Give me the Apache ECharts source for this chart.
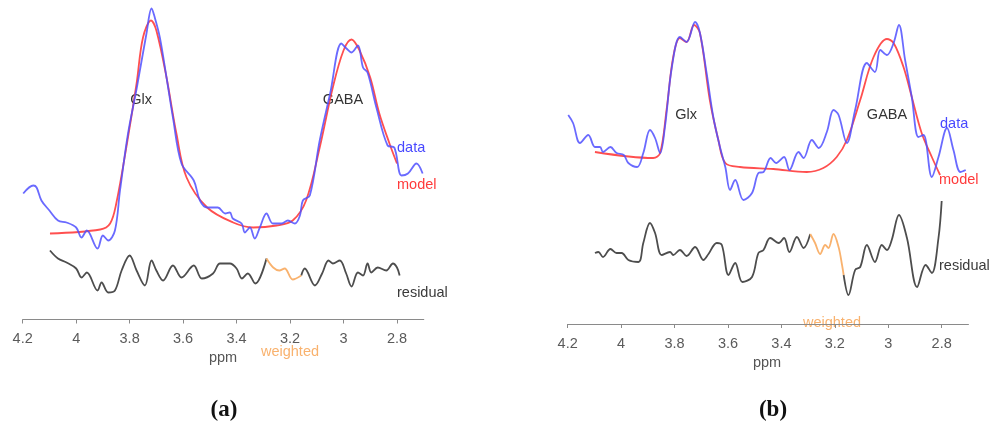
<!DOCTYPE html>
<html>
<head>
<meta charset="utf-8">
<script src="https://cdn.jsdelivr.net/npm/echarts@6/dist/echarts.min.js"></script>
<style>
  html, body { margin: 0; padding: 0; background: #fff; }
  #chart { width: 991px; height: 432px; }
</style>
</head>
<body>
<div id="chart"></div>
<script>
// Chemical shift ticks (ppm), shared by both spectra
var ppmTicks = [4.2, 4, 3.8, 3.6, 3.4, 3.2, 3, 2.8];

// Spectrum (a): [ppm, intensity in arbitrary units]
var dataA = [
  [4.198, 12.6], [4.16, 13.4], [4.148, 13.2], [4.13, 11.9], [4.10, 10.9], [4.068, 9.9],
  [4.036, 9.7], [4.0, 9.2], [3.98, 8.2], [3.96, 8.9], [3.92, 7.1], [3.90, 8.4],
  [3.88, 7.9], [3.855, 8.9], [3.836, 12.9], [3.806, 18.6], [3.773, 23.2], [3.737, 28.6],
  [3.718, 31.1], [3.706, 30.2], [3.687, 28.2], [3.662, 24.2], [3.638, 20.2], [3.606, 15.6],
  [3.56, 13.9], [3.537, 11.9], [3.51, 11.2], [3.47, 11.2], [3.443, 10.6], [3.425, 10.7],
  [3.414, 10.1], [3.381, 9.6], [3.369, 8.7], [3.35, 9.2], [3.332, 8.1], [3.313, 9.2],
  [3.288, 10.6], [3.264, 9.6], [3.232, 9.6], [3.208, 9.9], [3.182, 9.6], [3.163, 10.4],
  [3.152, 11.9], [3.126, 12.4], [3.089, 17.9], [3.05, 22.6], [3.008, 27.6],
  [2.989, 27.1], [2.97, 26.7], [2.946, 27.4], [2.927, 25.2], [2.91, 24.7], [2.877, 21.2],
  [2.835, 17.4], [2.81, 17.2], [2.783, 14.4], [2.759, 14.6], [2.727, 15.6], [2.704, 14.6]
];
var modelA = [
  [4.098, 8.6], [3.91, 9.0], [3.873, 9.6], [3.85, 11.6], [3.81, 17.6], [3.774, 23.6],
  [3.75, 28.2], [3.72, 29.9], [3.70, 28.9], [3.662, 24.2], [3.625, 18.6], [3.587, 14.2],
  [3.51, 11.2], [3.413, 9.7], [3.338, 9.2], [3.25, 9.4], [3.19, 9.9], [3.14, 11.9],
  [3.089, 17.2], [3.04, 23.2], [3.0, 26.9], [2.97, 28.0], [2.94, 26.9], [2.90, 24.2],
  [2.866, 20.6], [2.828, 17.6], [2.80, 15.6]
];
var residualA = [
  [4.098, 6.9], [4.068, 6.1], [4.036, 5.7], [4.0, 5.1], [3.98, 4.2], [3.96, 4.7],
  [3.92, 2.9], [3.905, 3.7], [3.88, 2.7], [3.855, 2.9], [3.83, 4.9], [3.80, 6.4],
  [3.774, 4.9], [3.743, 3.4], [3.718, 5.9], [3.70, 4.9], [3.675, 3.9], [3.638, 5.4],
  [3.606, 4.2], [3.56, 5.4], [3.53, 4.1], [3.488, 4.6], [3.462, 5.6], [3.425, 5.6],
  [3.40, 5.1], [3.38, 4.1], [3.358, 4.6], [3.33, 3.6], [3.288, 6.1],
  null,
  [3.158, 4.4], [3.145, 5.1], [3.107, 3.4], [3.08, 4.6], [3.056, 5.9], [3.04, 5.6],
  [3.014, 5.9], [2.99, 4.6], [2.97, 3.3], [2.946, 4.7], [2.927, 4.4], [2.91, 5.6],
  [2.896, 4.7], [2.872, 5.2], [2.84, 4.9], [2.815, 5.6], [2.80, 5.2], [2.79, 4.4]
];
var weightedA = [
  [3.288, 6.1], [3.263, 5.2], [3.24, 4.9], [3.22, 5.1], [3.19, 4.0], [3.158, 4.4]
];

// Spectrum (b)
var dataB = [
  [4.198, 20.9], [4.18, 20.1], [4.154, 18.1], [4.123, 18.9], [4.098, 17.7], [4.079, 17.7],
  [4.068, 17.2], [4.04, 17.7], [4.017, 17.1], [3.99, 16.9], [3.973, 16.1], [3.94, 15.7],
  [3.917, 17.1], [3.892, 19.4], [3.873, 18.6], [3.854, 17.1], [3.836, 19.7], [3.81, 25.7],
  [3.78, 28.7], [3.755, 28.2], [3.723, 30.2], [3.705, 29.1], [3.68, 25.1], [3.655, 20.7],
  [3.63, 17.7], [3.61, 15.7], [3.592, 13.4], [3.573, 14.4], [3.542, 12.4], [3.51, 13.1],
  [3.486, 15.1], [3.467, 15.2], [3.44, 16.6], [3.42, 16.1], [3.39, 16.7], [3.37, 15.4],
  [3.336, 17.2], [3.317, 16.6], [3.286, 18.4], [3.26, 17.6], [3.23, 19.2], [3.205, 21.4],
  [3.186, 20.9], [3.155, 18.1], [3.124, 21.4], [3.08, 26.1], [3.05, 25.2], [3.03, 27.4],
  [3.005, 26.9], [2.98, 28.1], [2.96, 29.9], [2.937, 26.4], [2.912, 22.7], [2.887, 18.7],
  [2.868, 18.9], [2.837, 14.7], [2.812, 16.7], [2.78, 19.6], [2.756, 17.4], [2.73, 15.2],
  [2.71, 15.4]
];
var modelB = [
  [4.098, 17.2], [3.88, 16.6], [3.854, 17.1], [3.83, 21.4], [3.805, 26.7], [3.78, 28.6],
  [3.755, 28.2], [3.727, 29.9], [3.705, 29.1], [3.668, 22.4], [3.636, 18.4], [3.61, 16.1],
  [3.555, 15.7], [3.43, 15.5], [3.305, 15.2], [3.243, 15.6], [3.193, 16.7], [3.155, 18.4],
  [3.105, 22.4], [3.055, 26.7], [3.005, 28.5], [2.98, 28.1], [2.943, 25.7], [2.912, 22.7],
  [2.875, 19.1], [2.837, 16.7], [2.806, 14.9]
];
var residualB = [
  [4.098, 7.1], [4.085, 7.2], [4.068, 6.7], [4.04, 7.5], [4.017, 7.1], [3.998, 7.1],
  [3.973, 6.4], [3.935, 6.2], [3.917, 8.1], [3.892, 10.1], [3.873, 9.1], [3.848, 6.9],
  [3.817, 7.2], [3.805, 6.9], [3.78, 7.4], [3.755, 6.8], [3.723, 7.7], [3.692, 6.4],
  [3.673, 7.0], [3.642, 8.1], [3.623, 7.9], [3.598, 4.9], [3.573, 6.1], [3.546, 4.2],
  [3.51, 4.7], [3.486, 7.1], [3.467, 7.4], [3.442, 8.6], [3.41, 8.1], [3.39, 8.6],
  [3.37, 7.2], [3.342, 8.7], [3.317, 7.6], [3.292, 9.0],
  null,
  [3.167, 4.9], [3.149, 2.9], [3.124, 5.4], [3.105, 5.7], [3.08, 7.9], [3.05, 6.2],
  [3.024, 7.9], [3.005, 7.4], [2.987, 8.4], [2.96, 10.9], [2.93, 8.6], [2.892, 3.7],
  [2.86, 5.9], [2.837, 5.1], [2.812, 8.6], [2.80, 12.3]
];
var weightedB = [
  [3.292, 9.0], [3.274, 8.1], [3.255, 7.0], [3.236, 7.9], [3.224, 7.6], [3.205, 9.0],
  [3.186, 7.7], [3.173, 5.9], [3.167, 4.9]
];

var BLUE = 'rgba(80, 80, 255, 0.85)';
var RED = 'rgba(255, 60, 60, 0.9)';
var GREY = '#4d4d4d';
var ORANGE = '#f9b26e';
var SANS = 'Liberation Sans, Arial, sans-serif';
var FS = 14.5;

function xAxisFor(gridIndex) {
  return {
    gridIndex: gridIndex,
    type: 'value',
    min: 2.7,
    max: 4.2,
    inverse: true,
    splitLine: { show: false },
    axisLine: { show: true, lineStyle: { color: '#8a8a8a', width: 1.2 } },
    axisTick: { show: true, length: 4, customValues: ppmTicks, lineStyle: { color: '#8a8a8a' } },
    axisLabel: {
      customValues: ppmTicks,
      color: '#5a5a5a',
      fontSize: FS,
      fontFamily: SANS,
      margin: 12,
      formatter: function (v) { return String(v); }
    }
  };
}
function yAxisFor(gridIndex, max) {
  return { gridIndex: gridIndex, type: 'value', min: 0, max: max, show: false };
}
function curve(name, data, color, xi) {
  return {
    name: name, type: 'line', xAxisIndex: xi, yAxisIndex: xi, data: data,
    showSymbol: false, smooth: 0.35, connectNulls: false, silent: true,
    lineStyle: { color: color, width: 1.8 }, animation: false
  };
}

function txt(x, y, s, color, size, extra) {
  var style = Object.assign({
    text: s, fill: color, fontSize: size || FS,
    fontFamily: SANS,
    align: 'center', verticalAlign: 'middle'
  }, extra || {});
  return { type: 'text', x: x, y: y, style: style, silent: true };
}

var SERIF_BOLD = { fontFamily: 'Liberation Serif, DejaVu Serif, serif', fontWeight: 'bold' };

var chart = echarts.init(document.getElementById('chart'), null, { renderer: 'canvas' });
chart.setOption({
  backgroundColor: '#fff',
  animation: false,
  grid: [
    { left: 22.7, width: 401, top: 0, height: 319.5 },
    { left: 567.7, width: 400.7, top: 0, height: 324 }
  ],
  xAxis: [xAxisFor(0), xAxisFor(1)],
  yAxis: [yAxisFor(0, 31.95), yAxisFor(1, 32.4)],
  series: [
    curve('residual', residualA, GREY, 0),
    curve('weighted', weightedA, ORANGE, 0),
    curve('model', modelA, RED, 0),
    curve('data', dataA, BLUE, 0),
    curve('residual', residualB, GREY, 1),
    curve('weighted', weightedB, ORANGE, 1),
    curve('model', modelB, RED, 1),
    curve('data', dataB, BLUE, 1)
  ],
  graphic: [
    txt(141, 100, 'Glx', '#333'),
    txt(343, 100, 'GABA', '#333'),
    txt(397, 148, 'data', '#4848ff', FS, { align: 'left' }),
    txt(397, 185, 'model', '#ff3a3a', FS, { align: 'left' }),
    txt(397, 293, 'residual', '#3a3a3a', FS, { align: 'left' }),
    txt(223, 358, 'ppm', '#555'),
    txt(290, 352, 'weighted', ORANGE),
    txt(224, 410, '(a)', '#111', 23, SERIF_BOLD),

    txt(686, 115, 'Glx', '#333'),
    txt(887, 115, 'GABA', '#333'),
    txt(940, 124, 'data', '#4848ff', FS, { align: 'left' }),
    txt(939, 180, 'model', '#ff3a3a', FS, { align: 'left' }),
    txt(939, 266, 'residual', '#3a3a3a', FS, { align: 'left' }),
    txt(767, 363, 'ppm', '#555'),
    txt(832, 323, 'weighted', ORANGE),
    txt(773, 410, '(b)', '#111', 23, SERIF_BOLD)
  ]
});
</script>
</body>
</html>
